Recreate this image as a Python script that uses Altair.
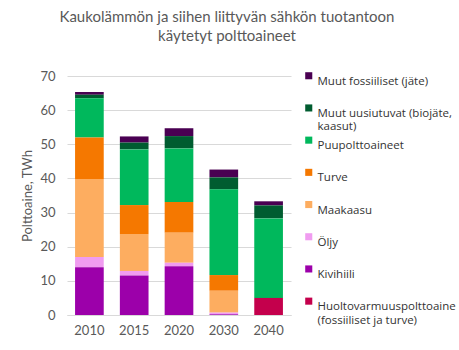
import altair as alt
import pandas as pd

years = ["2010", "2015", "2020", "2030", "2040"]
# legend order (top to bottom) = stack order from top
fuels = [
    "Muut fossiiliset (jäte)",
    "Muut uusiutuvat (biojäte, kaasut)",
    "Puupolttoaineet",
    "Turve",
    "Maakaasu",
    "Öljy",
    "Kivihiili",
    "Huoltovarmuuspolttoaine (fossiiliset ja turve)",
]
colors = ["#4a0052", "#005c30", "#00b85c", "#f57800", "#fdad60", "#f09cf0", "#9c00aa", "#c4004c"]

values = {
    "Muut fossiiliset (jäte)": [0.8, 1.8, 2.3, 2.3, 1.2],
    "Muut uusiutuvat (biojäte, kaasut)": [1.0, 2.0, 3.6, 3.5, 3.8],
    "Puupolttoaineet": [11.5, 16.3, 15.7, 25.1, 23.3],
    "Turve": [12.2, 8.5, 9.0, 4.6, 0.0],
    "Maakaasu": [22.8, 10.8, 8.8, 6.4, 0.0],
    "Öljy": [3.0, 1.3, 1.0, 0.5, 0.0],
    "Kivihiili": [14.0, 11.6, 14.3, 0.2, 0.0],
    "Huoltovarmuuspolttoaine (fossiiliset ja turve)": [0.0, 0.0, 0.0, 0.0, 5.0],
}

rows = []
for i, f in enumerate(fuels):
    for y, v in zip(years, values[f]):
        rows.append({"fuel": f, "year": y, "value": v, "order": len(fuels) - i})
df = pd.DataFrame(rows)

label_expr = (
    "datum.label == 'Muut uusiutuvat (biojäte, kaasut)' ? ['Muut uusiutuvat (biojäte,', 'kaasut)'] : "
    "datum.label == 'Huoltovarmuuspolttoaine (fossiiliset ja turve)' ? ['Huoltovarmuuspolttoaine', '(fossiiliset ja turve)'] : "
    "datum.label"
)

font = "Lato"
gray = "#595959"

chart = (
    alt.Chart(df)
    .mark_bar()
    .encode(
        x=alt.X(
            "year:N",
            title=None,
            scale=alt.Scale(paddingInner=0.36, paddingOuter=0.18),
            axis=alt.Axis(labelAngle=0, labelFontSize=13, labelColor=gray, labelFont=font,
                          domainColor="#d9d9d9", ticks=False, labelPadding=9),
        ),
        y=alt.Y(
            "value:Q",
            stack="zero",
            title="Polttoaine, TWh",
            scale=alt.Scale(domain=[0, 70], nice=False),
            axis=alt.Axis(values=[0, 10, 20, 30, 40, 50, 60, 70], domain=False, ticks=False,
                          labelFontSize=13, labelColor=gray, labelFont=font, labelPadding=12,
                          titleFontSize=13, titleColor=gray, titleFont=font, titleFontWeight="normal",
                          titlePadding=5, gridColor="#d9d9d9"),
        ),
        color=alt.Color(
            "fuel:N",
            scale=alt.Scale(domain=fuels, range=colors),
            sort=fuels,
            legend=alt.Legend(
                title=None, orient="none", legendX=236, legendY=-6, columns=1, gridAlign="all",
                symbolType="square", symbolSize=50,
                symbolStrokeWidth=0, labelFontSize=11.5, labelFont="Open Sans", labelColor="#333333",
                rowPadding=1.2, labelExpr=label_expr, labelLimit=200, labelOffset=3,
                labelBaseline="top",
            ),
        ),
        order=alt.Order("order:Q", sort="ascending"),
    )
    .properties(
        width=224,
        height=239,
        title=alt.TitleParams(
            ["Kaukolämmön ja siihen liittyvän sähkön tuotantoon", "käytetyt polttoaineet"],
            fontSize=15, font=font, color=gray, fontWeight="normal", anchor="middle",
            dx=48, offset=26, lineHeight=19,
        ),
        autosize=alt.AutoSizeParams(type="none"),
        padding={"left": 67, "top": 76, "right": 168, "bottom": 35},
    )
    .configure_view(stroke=None)
)

chart.save("out.html", embed_options={"renderer": "svg", "actions": False})
